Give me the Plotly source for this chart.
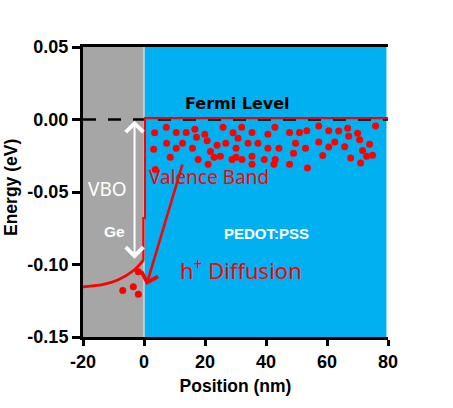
import plotly.graph_objects as go

# ---------------- data ----------------
x_ticks = [-20, 0, 20, 40, 60, 80]
x_ticklabels = ["-20", "0", "20", "40", "60", "80"]
y_ticks = [-0.15, -0.10, -0.05, 0.00, 0.05]
y_ticklabels = ["-0.15", "-0.10", "-0.05", "0.00", "0.05"]

# Fermi level / interface (red solid)
band_x = [80, 0.3, 0.3, -0.2, -0.2]
band_y = [0.001, 0.001, -0.068, -0.068, -0.097]
# bent valence band in Ge
curve_x = [-0.2, -3.2, -8.6, -14.0, -19.5, -20]
curve_y = [-0.097, -0.1038, -0.1107, -0.1141, -0.1153, -0.1157]

# Fermi level (black dashed)
fermi_x = [-20, 80]
fermi_y = [0, 0]

# holes in PEDOT:PSS
holes_x = [7.30, 3.49, 10.57, 13.83, 16.67, 25.93, 19.93, 17.21, 20.70, 7.41,
           12.64, 10.57, 3.16, 15.90, 23.97, 26.80, 21.79, 8.61, 17.76, 22.98,
           25.05, 21.02, 3.70,
           32.03, 42.92, 29.20, 35.41, 40.63, 47.72, 50.98, 53.38, 30.83, 34.10,
           37.37, 49.68, 30.18, 40.63, 44.23, 52.94, 49.02, 28.87, 30.18, 32.14,
           35.41, 39.44, 43.03, 35.41, 42.60, 47.72, 53.60,
           57.30, 66.77, 75.92, 60.57, 63.83, 70.04, 67.10, 70.70, 57.30, 62.53,
           60.57, 65.79, 73.96, 71.68, 58.60, 67.75, 72.98, 74.94, 71.02]
holes_y = [-0.0054, -0.0091, -0.0089, -0.0089, -0.0068, -0.0054, -0.0102, -0.0123, -0.0146, -0.0164,
           -0.0164, -0.0199, -0.0206, -0.0199, -0.0178, -0.0164, -0.0220, -0.0261, -0.0275, -0.0261,
           -0.0254, -0.0309, -0.0344,
           -0.0054, -0.0054, -0.0091, -0.0089, -0.0102, -0.0089, -0.0089, -0.0077, -0.0130, -0.0164,
           -0.0164, -0.0164, -0.0199, -0.0199, -0.0199, -0.0199, -0.0233, -0.0275, -0.0261, -0.0275,
           -0.0254, -0.0275, -0.0275, -0.0309, -0.0309, -0.0309, -0.0334,
           -0.0045, -0.0061, -0.0045, -0.0077, -0.0079, -0.0095, -0.0116, -0.0139, -0.0155, -0.0155,
           -0.0190, -0.0188, -0.0171, -0.0213, -0.0249, -0.0266, -0.0254, -0.0247, -0.0300]

# holes in Ge
ge_holes_x = [-1.86, -6.96, -3.5, -1.86]
ge_holes_y = [-0.105, -0.118, -0.1153, -0.1206]

# region extents
ge_region = [-20, 0]
pedot_region = [0, 79.5]
y_range = [-0.15, 0.05]

RED = "#ff0000"
GRAY = "#a6a6a6"
BLUE = "#00b0f0"

fig = go.Figure()

fig.add_trace(go.Scatter(x=fermi_x, y=fermi_y, mode="lines",
                         line=dict(color="black", width=2.6, dash="13px,12px"),
                         hoverinfo="skip"))
fig.add_trace(go.Scatter(x=band_x, y=band_y, mode="lines",
                         line=dict(color=RED, width=2.2), hoverinfo="skip"))
fig.add_trace(go.Scatter(x=curve_x, y=curve_y, mode="lines",
                         line=dict(color=RED, width=2.8, shape="spline"), hoverinfo="skip"))
fig.add_trace(go.Scatter(x=holes_x, y=holes_y, mode="markers",
                         marker=dict(color=RED, size=7, line=dict(width=0))))
fig.add_trace(go.Scatter(x=ge_holes_x, y=ge_holes_y, mode="markers",
                         marker=dict(color=RED, size=7, line=dict(width=0))))

fig.add_shape(type="rect", xref="x", yref="y", x0=ge_region[0], x1=ge_region[1],
              y0=y_range[0], y1=y_range[1], fillcolor=GRAY, line_width=0, layer="below")
fig.add_shape(type="rect", xref="x", yref="y", x0=pedot_region[0], x1=pedot_region[1],
              y0=y_range[0], y1=y_range[1], fillcolor=BLUE, line_width=0, layer="below")
fig.add_shape(type="line", xref="x", yref="y", x0=0, x1=0, y0=y_range[0], y1=y_range[1],
              line=dict(color="#c9dde6", width=1.5), layer="below")

txt = "Noto Sans"
title_font = dict(family="Liberation Sans, Arial", size=17.5, color="black", weight="bold")
ann = [
    dict(x=30.6, y=0.0107, text="Fermi Level", showarrow=False,
         font=dict(family="DejaVu Sans", size=16, color="black", weight="bold")),
    dict(x=-12.1, y=-0.048, text="VBO", showarrow=False,
         font=dict(family=txt, size=19, color="white")),
    dict(x=-9.8, y=-0.0769, text="Ge", showarrow=False,
         font=dict(family="Liberation Sans", size=15.5, color="white", weight="bold")),
    dict(x=21.4, y=-0.0397, text="Valence Band", showarrow=False,
         font=dict(family=txt, size=19, color=RED)),
    dict(x=40.2, y=-0.0783, text="PEDOT:PSS", showarrow=False,
         font=dict(family="Liberation Sans", size=15, color="white", weight="bold")),
    dict(x=31.7, y=-0.1031, text="h<sup>+</sup> Diffusion", showarrow=False,
         font=dict(family=txt, size=22, color=RED)),
    # y-axis title
    dict(x=0, y=0.5, xref="paper", yref="paper", xanchor="center", yanchor="middle",
         xshift=-72, yshift=4, textangle=-90,
         text="Energy (eV)", showarrow=False, font=title_font),
    # VBO double arrow
    dict(x=-3.1, y=-0.0008, ax=-3.1, ay=-0.097, xref="x", yref="y", axref="x", ayref="y",
         text="", showarrow=True, arrowside="end+start", arrowhead=4, startarrowhead=4,
         arrowsize=1.7, startarrowsize=1.7, arrowwidth=2, arrowcolor="white"),
    # h+ diffusion arrow
    dict(x=0.8, y=-0.1141, ax=12.75, ay=-0.030, xref="x", yref="y", axref="x", ayref="y",
         text="", showarrow=True, arrowhead=4, arrowsize=1.3, arrowwidth=2.6, arrowcolor=RED),
]
fig.update_layout(annotations=ann)

axis_font = dict(family="Liberation Sans, Arial", size=18, color="black", weight="bold")
fig.update_xaxes(range=[-20, 80], tickvals=x_ticks, ticktext=x_ticklabels,
                 showgrid=False, zeroline=False, showline=True, linewidth=3, linecolor="black",
                 mirror=True, ticks="outside", ticklen=6, tickwidth=3, tickcolor="black",
                 tickfont=axis_font,
                 title=dict(text="Position (nm)", standoff=10, font=title_font))
fig.update_yaxes(range=y_range, tickvals=y_ticks, ticktext=y_ticklabels,
                 showgrid=False, zeroline=False, showline=True, linewidth=3, linecolor="black",
                 ticks="outside", ticklen=8, tickwidth=3, tickcolor="black",
                 tickfont=axis_font)

fig.update_layout(width=453, height=408, autosize=False, showlegend=False,
                  margin=dict(l=83, r=65, t=47, b=71),
                  paper_bgcolor="white", plot_bgcolor="white")

fig.write_html("out.html", config={"displayModeBar": False},
               post_script="document.body.style.margin='0';")
